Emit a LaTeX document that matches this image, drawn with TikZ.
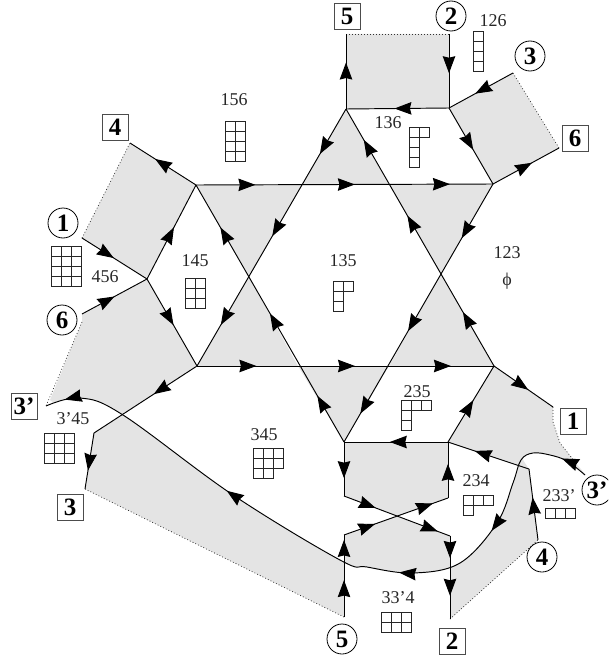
\documentclass[tikz,border=0pt]{standalone}
\usepackage{fontspec}
\setmainfont{Liberation Serif}
\usetikzlibrary{arrows.meta,decorations.markings,shapes.geometric}
\definecolor{facegray}{gray}{0.895}
\tikzset{
  mk/.style={postaction={decorate,decoration={markings,mark=at position #1 with {\arrow{Stealth[length=17pt,width=12.5pt,inset=1.5pt]}}}}},
  edgeline/.style={line width=0.95pt,black},
  dots/.style={line width=0.7pt,dash pattern=on 0.9pt off 2.1pt,black!80},
  lab/.style={font=\fontsize{18}{18}\selectfont,inner sep=0pt,text=black!85},
  boxlab/.style={draw=black!70,line width=0.9pt,minimum size=26pt,inner sep=0pt,font=\fontsize{25}{25}\selectfont\bfseries},
  circlab/.style={circle,draw=black,line width=0.8pt,minimum size=30pt,inner sep=0pt,font=\fontsize{25}{25}\selectfont\bfseries},
  cell/.style={draw=black!85,line width=0.85pt}
}
% Young diagram: top-left corner, then row lengths
\newcommand{\yng}[3]{%
  \foreach \rowlen [count=\ri from 0] in {#3} {
    \foreach \ci in {1,...,\rowlen} {
      \draw[cell] ({#1+(\ci-1)*10.2},{#2+\ri*10.2}) rectangle ++(10.2,10.2);
    }
  }%
}
\def\curvepath{plot[smooth,tension=0.6] coordinates {(c3e) (567,461) (550,455) (533,453) (521,460) (513,483) (497,523) (460,563) (413,573) (367,567) (340,560) (233,495) (123,415) (80,398) (c3b)}}
\begin{document}
\begin{tikzpicture}[x=1pt,y=-1pt]
\useasboundingbox (0,0) rectangle (608,661);
\clip (0,0) rectangle (608,661);
% star
\coordinate (top) at (346,109);
\coordinate (tl) at (196,185);
\coordinate (tr) at (493,184);
\coordinate (br) at (494,366);
\coordinate (bl) at (197,366);
\coordinate (bot) at (344,442);
% outer vertices
\coordinate (fivet) at (346,34);
\coordinate (twot) at (449,34);
\coordinate (twoj) at (449,108);
\coordinate (threet) at (513,73);
\coordinate (sixt) at (559,148);
\coordinate (fourt) at (130,143);
\coordinate (onel) at (82,238);
\coordinate (sixl) at (82,314);
\coordinate (sixd) at (82,322);
\coordinate (midl) at (147,279);
\coordinate (kink) at (94,433);
\coordinate (threeb) at (85,489);
\coordinate (c3b) at (46,406);
\coordinate (c3e) at (585,475);
\coordinate (oner) at (553,407);
\coordinate (ja) at (448,442);
\coordinate (jb) at (448,498);
\coordinate (jc) at (344,496);
\coordinate (jd) at (344,535);
\coordinate (je) at (450,536);
\coordinate (twob) at (450,619);
\coordinate (fiveb) at (344,617);
\coordinate (foure) at (538,540);
\coordinate (fourk) at (529,469);
% shaded faces
\fill[facegray] (top) -- (302,185) -- (389,185) -- cycle;
\fill[facegray] (389,184) -- (tr) -- (441,274) -- cycle;
\fill[facegray] (tl) -- (302,185) -- (249,277) -- cycle;
\fill[facegray] (249,277) -- (bl) -- (298,366) -- cycle;
\fill[facegray] (441,274) -- (br) -- (389,366) -- cycle;
\fill[facegray] (298,366) -- (389,366) -- (bot) -- cycle;
\fill[facegray] (fivet) -- (twot) -- (twoj) -- (top) -- cycle;
\fill[facegray] (twoj) -- (threet) -- (sixt) -- (tr) -- cycle;
\fill[facegray] (fourt) -- (tl) -- (midl) -- (onel) -- cycle;
\fill[facegray] (bot) -- (ja) -- (jb) -- (397,516) -- (jc) -- cycle;
\begin{scope}
  \clip \curvepath -- (0,406) -- (0,0) -- (620,0) -- (620,475) -- cycle;
  \fill[facegray] (sixl) -- (midl) -- (bl) -- (kink) -- (50,400) -- (sixd) -- cycle;
  \fill[facegray] (jd) -- (397,516) -- (je) -- (450,600) -- (344,600) -- cycle;
  \fill[facegray] (br) -- (oner) -- (553,422) -- (560,443) -- (575,462) -- (590,480) -- (519,490) -- (519,465) -- (ja) -- cycle;
\end{scope}
\begin{scope}
  \clip \curvepath -- (0,406) -- (0,680) -- (620,680) -- (620,475) -- cycle;
  \fill[facegray] (kink) -- (threeb) -- (fiveb) -- (344,500) -- (bl) -- cycle;
  \fill[facegray] (twob) -- (foure) -- (fourk) -- (510,440) -- (450,530) -- cycle;
\end{scope}
% dotted boundaries
\draw[dots] (fivet) -- (twot);
\draw[dots] (threet) -- (sixt);
\draw[dots] (onel) -- (fourt);
\draw[dots] (sixd) -- (c3b);
\draw[dots] (threeb) -- (fiveb);
\draw[dots] (twob) -- (foure);
\draw[dots] (oner) -- (553,422) -- (560,443) -- (575,462);
% star edges
\draw[edgeline,mk=.20,mk=.535,mk=.855] (tl) -- (tr);
\draw[edgeline,mk=.20,mk=.532,mk=.855] (bl) -- (br);
\draw[edgeline,mk=.175,mk=.495,mk=.84] (top) -- (bl);
\draw[edgeline,mk=.18,mk=.50,mk=.835] (bot) -- (tl);
\draw[edgeline,mk=.21,mk=.57,mk=.89] (tr) -- (bot);
\draw[edgeline,mk=.21,mk=.585,mk=.88] (br) -- (top);
% outer edges
\draw[edgeline,mk=.62] (top) -- (fivet);
\draw[edgeline,mk=.53] (twot) -- (twoj);
\draw[edgeline,mk=.53] (twoj) -- (top);
\draw[edgeline,mk=.59] (threet) -- (twoj);
\draw[edgeline,mk=.55] (twoj) -- (tr);
\draw[edgeline,mk=.59] (tr) -- (sixt);
\draw[edgeline,mk=.62] (tl) -- (fourt);
\draw[edgeline,mk=.55] (midl) -- (tl);
\draw[edgeline,mk=.49] (onel) -- (midl);
\draw[edgeline,mk=.50] (sixl) -- (midl);
\draw[edgeline,mk=.53] (midl) -- (bl);
\draw[edgeline,mk=.42] (bl) -- (kink);
\draw[edgeline,mk=.67] (kink) -- (threeb);
\draw[edgeline,mk=.58] (br) -- (oner);
\draw[edgeline,mk=.55] (ja) -- (br);
\draw[edgeline,mk=.67] (fourk) -- (ja);
\draw[edgeline,mk=.60] (foure) -- (fourk);
\draw[edgeline,mk=.56] (ja) -- (bot);
\draw[edgeline,mk=.67] (bot) -- (jc);
\draw[edgeline,mk=.30,mk=.885] (jc) -- (je);
\draw[edgeline,mk=.265,mk=.72] (je) -- (twob);
\draw[edgeline,mk=.45,mk=.94] (fiveb) -- (jd);
\draw[edgeline,mk=.30,mk=.855] (jd) -- (jb);
\draw[edgeline,mk=.61] (jb) -- (ja);
% long curve
\draw[edgeline,mk=.043,mk=.226,mk=.389,mk=.682,mk=.97] \curvepath;
% boundary labels
\node[boxlab] (b4) at (115,127) {4};
\node[boxlab] (b5) at (347,16) {5};
\node[boxlab] (b6) at (575,138) {6};
\node[boxlab] (b1) at (573,421) {1};
\node[boxlab] (b2) at (452,641) {2};
\node[boxlab] (b3) at (70,507) {3};
\node[boxlab] (b3p) at (24,406) {3’};
\node[circlab] (c1) at (63,223) {1};
\node[circlab] (c6) at (62,320) {6};
\node[circlab] (c2) at (451,16) {2};
\node[circlab] (c3) at (530,56) {3};
\node[circlab] (c3p) at (597,490) {3’};
\node[circlab] (c4) at (542,557) {4};
\node[circlab] (c5) at (342,639) {5};
% face labels
\node[lab] (l156) at (234,100) {156};
\node[lab] (l145) at (195,261) {145};
\node[lab] (l456) at (105,277) {456};
\node[lab] (l135) at (343,261) {135};
\node[lab] (l136) at (388,123) {136};
\node[lab] (l126) at (493,21) {126};
\node[lab] (l123) at (507,253) {123};
\node[lab] (lphi) at (507,281) {ϕ};
\node[lab] (l235) at (417,392) {235};
\node[lab] (l234) at (476,481) {234};
\node[lab] (l233) at (559,496) {233’};
\node[lab] (l334) at (398,598) {33’4};
\node[lab] (l345) at (264,435) {345};
\node[lab] (l3p45) at (73,419) {3’45};
% Young diagrams
\yng{225}{121}{2,2,2,2}
\yng{185}{278}{2,2,2}
\yng{51}{246}{3,3,3,3}
\yng{333.5}{281}{2,1,1}
\yng{409}{127}{2,1,1,1}
\yng{473}{31}{1,1,1,1}
\yng{401}{400}{3,1,1}
\yng{463}{495}{3,1}
\yng{545}{508}{3}
\yng{381}{612}{3,3}
\yng{253}{448}{3,3,2}
\yng{44}{433}{3,3,3}
\end{tikzpicture}
\end{document}
